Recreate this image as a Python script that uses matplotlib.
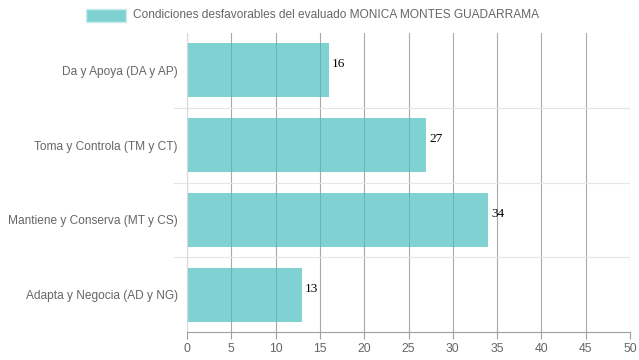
import matplotlib
matplotlib.use("Agg")
from matplotlib import pyplot as plt
from matplotlib.patches import Rectangle

categories = ["Da y Apoya (DA y AP)", "Toma y Controla (TM y CT)",
              "Mantiene y Conserva (MT y CS)", "Adapta y Negocia (AD y NG)"]
values = [16, 27, 34, 13]
x_ticks = list(range(0, 51, 5))
legend_label = "Condiciones desfavorables del evaluado MONICA MONTES GUADARRAMA"

bar_color = (75 / 255, 192 / 255, 192 / 255, 0.7)
text_gray = "#666666"

plt.rcParams["font.family"] = ["Liberation Sans", "DejaVu Sans"]

fig = plt.figure(figsize=(6.39, 3.6), dpi=100)
ax = fig.add_axes([187 / 639, 1 - 332 / 360, 443 / 639, 299 / 360])

pos = list(range(len(categories)))
ax.barh(pos, values, height=0.72, color=bar_color, zorder=2)

ax.set_xlim(0, 50)
ax.set_ylim(len(categories) - 0.5, -0.5)

# x axis: ticks + vertical grid
ax.set_xticks(x_ticks)
ax.set_xticklabels([str(t) for t in x_ticks], fontsize=8.8, color=text_gray)
ax.tick_params(axis="x", length=5, width=0.8, color="#a0a0a0", pad=3)
ax.xaxis.grid(True, color="#a8a8a8", linewidth=0.8, zorder=0)

# y axis: labels at centres, grid at band edges
ax.set_yticks(pos)
ax.set_yticklabels(categories, fontsize=8.6, color=text_gray)
ax.set_yticks([p + 0.5 for p in pos[:-1]], minor=True)
ax.tick_params(axis="y", which="major", length=0, pad=6.5)
ax.tick_params(axis="y", which="minor", length=10, width=0.8, color="#e6e6e6")
ax.yaxis.grid(True, which="minor", color="#e6e6e6", linewidth=0.8, zorder=0)
ax.set_axisbelow(True)

for s in ["top", "right"]:
    ax.spines[s].set_visible(False)
ax.spines["left"].set_color("#d8d8d8")
ax.spines["left"].set_linewidth(0.8)
ax.spines["bottom"].set_color("#a0a0a0")
ax.spines["bottom"].set_linewidth(0.8)

# value labels
for p, v in zip(pos, values):
    ax.annotate(str(v), (v, p), xytext=(3, 6), textcoords="offset pixels",
                va="center", ha="left", fontsize=9.5, color="black",
                family="Liberation Serif")

# legend at top
fig.patches.append(Rectangle((86 / 639, 1 - 22 / 360), 40 / 639, 13 / 360,
                             transform=fig.transFigure, facecolor=bar_color,
                             edgecolor="#c8ecec", linewidth=1))
fig.text(133 / 639, 1 - 15.5 / 360, legend_label, fontsize=8.6, color=text_gray,
         va="center", ha="left")

fig.savefig("out.png", dpi=100)
